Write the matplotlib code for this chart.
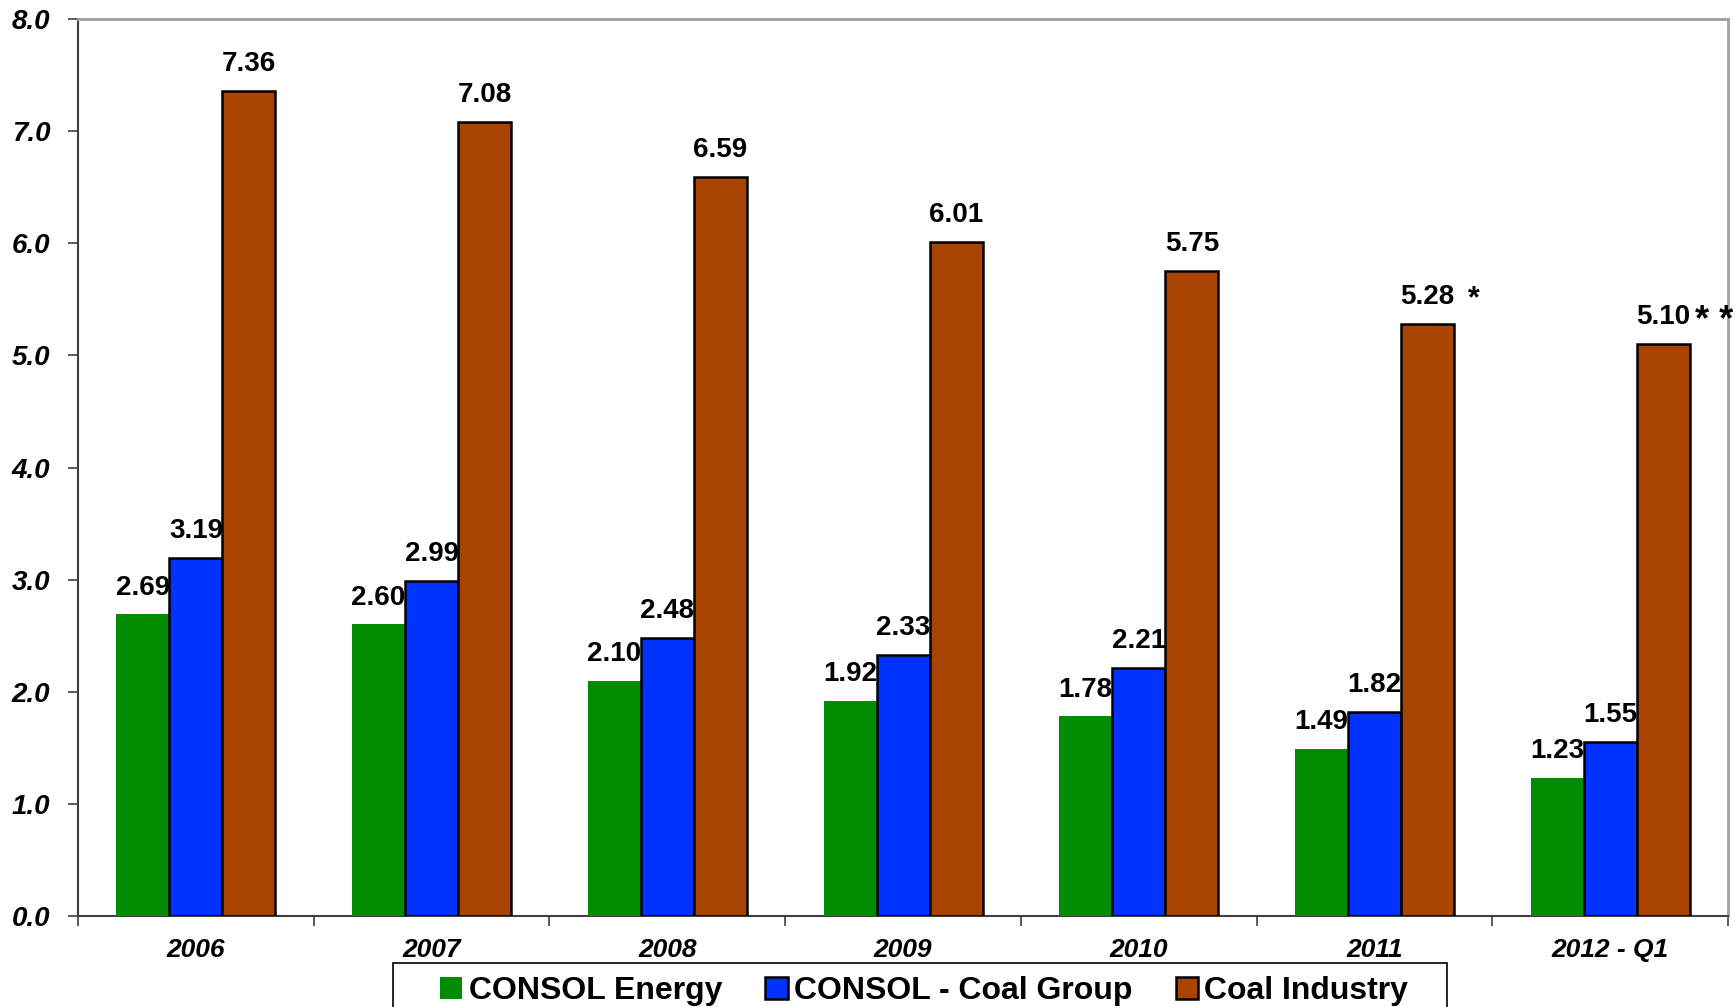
import matplotlib
matplotlib.use("Agg")
import matplotlib.pyplot as plt
from matplotlib.patches import Rectangle
import numpy as np

categories = ["2006", "2007", "2008", "2009", "2010", "2011", "2012 - Q1"]
consol_energy = [2.69, 2.60, 2.10, 1.92, 1.78, 1.49, 1.23]
consol_coal = [3.19, 2.99, 2.48, 2.33, 2.21, 1.82, 1.55]
coal_industry = [7.36, 7.08, 6.59, 6.01, 5.75, 5.28, 5.10]
industry_notes = ["", "", "", "", "", "*", "**"]
series_names = ["CONSOL Energy", "CONSOL - Coal Group", "Coal Industry"]
yticks = [0.0, 1.0, 2.0, 3.0, 4.0, 5.0, 6.0, 7.0, 8.0]

plt.rcParams['font.family'] = ['Liberation Sans', 'DejaVu Sans']

fig = plt.figure(figsize=(17.35, 10.07), dpi=100)
ax = fig.add_axes([0.045, 0.0904, 0.951, 0.8906])

x = np.arange(len(categories))
w = 0.225
colors = ["#008C00", "#0033FF", "#A84300"]
edges = ["#008C00", "black", "black"]
lws = [0, 1.8, 1.8]
series = [consol_energy, consol_coal, coal_industry]
bars_all = []
for i, (vals, c, ec, lw, name) in enumerate(zip(series, colors, edges, lws, series_names)):
    b = ax.bar(x + (i - 1) * w, vals, w, color=c, edgecolor=ec, linewidth=lw, label=name, zorder=3)
    bars_all.append(b)
    for xi, v in zip(x + (i - 1) * w, vals):
        ax.annotate(f"{v:.2f}", (xi, v), xytext=(0, 10), textcoords="offset points",
                    ha="center", va="bottom", fontsize=20, fontweight="bold")

for xi, v, note in zip(x + w, coal_industry, industry_notes):
    if note == "*":
        ax.annotate(note, (xi, v), xytext=(33, 7), textcoords="offset points",
                    ha="center", va="bottom", fontsize=22, fontweight="bold")
    elif note:
        ax.annotate(" ".join(note), (xi, v), xytext=(23, 4), textcoords="offset points",
                    ha="left", va="bottom", fontsize=26, fontweight="bold")

ax.set_xlim(-0.5, len(categories) - 0.5)
ax.set_ylim(0, 8)
ax.set_yticks(yticks)
ax.set_yticklabels([f"{t:.1f}" for t in yticks], fontsize=20, fontweight="bold", fontstyle="italic")
ax.set_xticks(np.arange(len(categories) + 1) - 0.5)
ax.set_xticklabels([])
ax.set_xticks(x, minor=True)
ax.set_xticklabels(categories, minor=True, fontsize=19, fontweight="bold", fontstyle="italic")
ax.tick_params(axis="x", which="minor", length=0, pad=16)
ax.tick_params(axis="x", which="major", length=7, width=1.2, color="#404040", direction="out")
ax.tick_params(axis="y", length=7, width=1.2, color="#404040", direction="out", pad=13)

for s in ["left", "bottom"]:
    ax.spines[s].set_color("#404040")
    ax.spines[s].set_linewidth(1.5)
for s in ["top", "right"]:
    ax.spines[s].set_color("#A0A0A0")
    ax.spines[s].set_linewidth(2)

leg = fig.legend(handles=bars_all, labels=series_names, loc="center",
                 bbox_to_anchor=(0.5327, 0.0158), ncol=3, frameon=False,
                 prop={"size": 23, "weight": "bold"},
                 handlelength=0.7, handleheight=0.7, handletextpad=0.2, columnspacing=1.35,
                 borderpad=0.2, borderaxespad=0)
fig.patches.append(Rectangle((0.2265, -0.05), 0.6075, 0.0937, transform=fig.transFigure,
                             fill=False, edgecolor="black", linewidth=1.2))

fig.savefig("out.png", dpi=100)
